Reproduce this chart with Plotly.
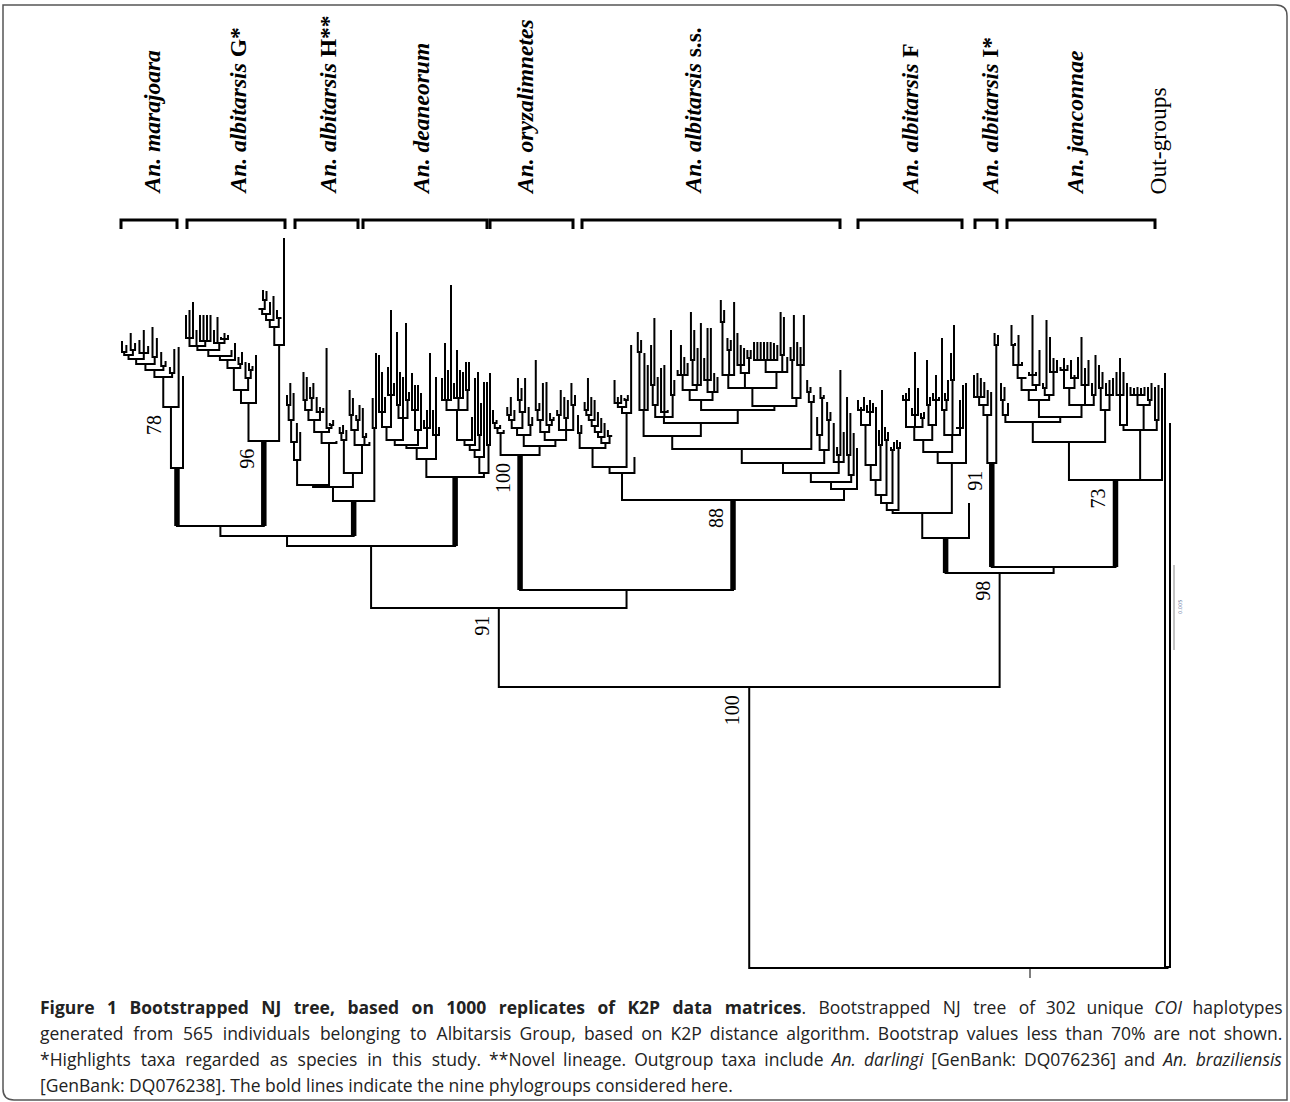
import numpy as np
import plotly.graph_objects as go

# ---------------------------------------------------------------------------
# DATA.  node = [node height, child, child, ...]; leaf = tip height.
# Heights are on the tree's distance axis (root at the bottom, tips upward).
# ---------------------------------------------------------------------------
MARAJ = [468,
         [407,
          [377,
           [370, [364, [359, [355, [352, 341, 345], [350, 333, 343]], [353, 340, 330, 346]],
                  [357, 327, 338]], [366, 352, 361]],
           [373, 367, 349]],
          347],
         376]

G_TOP = [350, [346, [338, 315, 310, 302], 330, [341, 315, 315, 315, 315]],
         [343, 330, 317, [339, 337, 333, 335]]]
G_LEFT = [403, [390, [368, [360, [356, G_TOP, 350], 343], [364, 357, 352]],
                [378, 362, [370, 363, 366]]], 355]
G_RIGHT = [345, [327, [320, [314, [309, 308, [300, 290, 291]], 302], 296], [318, 310, 317]], 238]
G = [441, G_LEFT, G_RIGHT]

H = [501,
     [487,
      [485,
       [460, [442, [420, [405, 395, 383], 393], 423], 432],
       [443, [432, [420, [410, [400, 372, 377], [398, 387, 383]], [412, 397, 407, 408]],
              [428, 348, [425, 423, 420]]], 441]],
      [473, [440, [433, 427, 425], 430],
       [445, [430, [415, 390, 398], [420, 415, 405]], [437, 408, 433], 442]]],
     [428, 398, 353]]

D_LEFT = [459,
          [448,
           [445,
            [440,
             [427, [412, 355, 372, 397], [395, 367, 310, 383]],
             [418, [405, 332, 372], 377, [400, 323, 392]]],
            [430, [410, 373, 385, 385], 393]],
           [428, 420, 410, 353]],
          [435, 410, 377, 427]]
D_RIGHT = [473,
           [457,
            [450,
             [445, [440, [410, [400, 378, 343, 370, 285], [398, 383, 350, 370, 372], [390, 362, 362]],
                    417], 378],
             [435, 372, 403]],
            382],
           [445, 382, 373]]
DEAN = [477, D_LEFT, D_RIGHT]

O_LEFT = [433, [428, [423, 410, 420], 425], 430]
O_RIGHT = [446,
           [435,
            [428, [420, [415, 407, 397], 410], [412, [400, 378, 388], 378]],
            [425, 407, 417]],
           [440,
            [432, [420, [410, 360, 403], 383], [425, 382, [420, 413, 417]]],
            [430, [415, 410, 390], [418, 397, 400], [405, 383, 395]]]]
ORYZ = [455, O_LEFT, O_RIGHT]

C1 = [433, 415, 425]
C2 = [443, [437, [432, [426, [420, [415, [410, 402, 378], 397], 400], 412], 418], 423], [436, 430, 435]]
C3 = [413, [407, [403, 380, 397, 395], [400, 398, 395]], 345]
SS_LEFT = [473, [467, [448, C1, C2], C3], 457]
K1 = [410, [352, 332, 340], 353, 365]
K2 = [417, [405, [385, 345, 318], 377], [412, 368, 365, 410], [395, 330, 380]]
K3 = [400, [390, [375, 370, 345, 357, 363], [385, [360, 312, 330], 348, 323]],
      [392, [380, 358, 328, 328], 373, 377]]
K4 = [388, [375, [322, 300, 310], [350, 338, 340], 302],
      [373, [365, 333, 345, 348], [358, 350, 350]],
      [372, [360, 342, 342, 342, 342, 342, 342, 343, 345], [355, 312, 317], 357]]
K5 = [398, [360, 347, 315], [365, 342, 347, 315]]
K6 = [402, [392, 380, 387], 395]
RL1 = [450, [435, 417, [398, 387, 395]], [420, 402, 412]]
RL2 = [462, 423, [455, 447, 370], 432]
RL3 = [475, [455, 397, 413], 433]
SS_RIGHT = [489, [482, [473, [463, [449, [436, K1, [423, K2, [410, K3, [406, K4, K5]]]], K6], RL1],
                        RL2], RL3], 448]
SS = [500, SS_LEFT, SS_RIGHT]

F_LEFT = [510,
          [503,
           [495,
            [480, [465, [425, [410, 400, 407, 397], [412, 405, 400, 403]], 407], [445, 430, 390]],
            [440, 427, 432]],
           [450, 447, 442]],
          [448, 440, 442]]
F_RIGHT = [463,
           [452,
            [440,
             [427, [400, 395, 393, 388], [415, 408, 352, 388], [418, 413, 412]],
             [425, [405, 360, 397], [400, 393, 375, 397]]],
            [435, [410, 338, [400, 393, 380]], [380, 353, 325], [428, 427, 400, 385]]],
           383]
F_GRP = [538, [513, F_LEFT, F_RIGHT], 503]

I_CL = [463, [415, [405, [397, 375, 373, 378, 382], 390], 392], [345, 333, 335]]

J_A = [415, [400, 383, 387], 403]
J_B = [417,
       [400,
        [390,
         [378, [365, [345, 325, 343], 335, 362], 377],
         [385, [375, 372, 315, 372], 350]],
        [395, [388, 383, 320], [372, 337, 358, 360]]],
       [405, [388, [370, 367, 358, 365], [378, 360, 375, 357]], [385, 337, 368, 360], [395, 383, 355]]]
J_C = [410, [388, 365, 372], [395, 383, 380, 378]]
J_MID = [430, [425, [395, 372, 358, 372], 383],
         [405, [395, 387, 388, 387, 388, 387], [400, 387, 383]], [420, 387, 385]]
JAN = [480, [442, [422, J_A, J_B], J_C], J_MID, 388]

OUT = [967, 373, 423]

# backbone
E = [536, [526, MARAJ, G], H]
C = [546, E, DEAN]
D = [590, ORYZ, SS]
A91 = [608, C, D]
J = [567, I_CL, JAN]
B98 = [573, F_GRP, J]
INGROUP = [687, A91, B98]
ROOT = [968, INGROUP, OUT]

# leaf-order extent of each clade on the horizontal axis
CLADE_SPANS = [(MARAJ, 122, 183), (G, 186, 284), (H, 287, 376), (DEAN, 379, 490),
               (ORYZ, 493, 575), (SS, 578, 857), (F_GRP, 858, 969), (I_CL, 974, 998),
               (JAN, 1001, 1162), (OUT, 1165, 1170)]

PHYLOGROUPS = [MARAJ, G, H, DEAN, ORYZ, SS, F_GRP, I_CL, JAN]

BOOTSTRAP = [(MARAJ[1], 78), (G, 96), (ORYZ, 100), (SS, 88), (I_CL, 91), (JAN, 73),
             (A91, 91), (B98, 98), (INGROUP, 100)]

SPECIES = ["<b><i>An. marajoara</i></b>", "<b><i>An. albitarsis</i> G*</b>",
           "<b><i>An. albitarsis</i> H**</b>", "<b><i>An. deaneorum</i></b>",
           "<b><i>An. oryzalimnetes</i></b>", "<b><i>An. albitarsis</i> s.s.</b>",
           "<b><i>An. albitarsis</i> F</b>", "<b><i>An. albitarsis</i> I*</b>",
           "<b><i>An. janconnae</i></b>", "Out-groups"]
LABEL_X = [151, 237, 327, 421, 525, 692, 910, 990, 1075, 1157]
BRACKETS = [(121, 177), (187, 285), (295, 358), (363, 487), (490, 573),
            (582, 840), (858, 962), (975, 997), (1007, 1155)]

SCALE_LABEL = "0.005"

CAPTION_WORDS = [
    ["<b>Figure", "1", "Bootstrapped", "NJ", "tree,", "based", "on", "1000", "replicates", "of",
     "K2P", "data", "matrices</b>.", "Bootstrapped", "NJ", "tree", "of", "302", "unique",
     "<i>COI</i>", "haplotypes"],
    ["generated", "from", "565", "individuals", "belonging", "to", "Albitarsis", "Group,", "based",
     "on", "K2P", "distance", "algorithm.", "Bootstrap", "values", "less", "than", "70%", "are",
     "not", "shown."],
    ["*Highlights", "taxa", "regarded", "as", "species", "in", "this", "study.", "**Novel",
     "lineage.", "Outgroup", "taxa", "include", "<i>An.", "darlingi</i>", "[GenBank:",
     "DQ076236]", "and", "<i>An.", "braziliensis</i>"],
    ["[GenBank:", "DQ076238].", "The", "bold", "lines", "indicate", "the", "nine", "phylogroups",
     "considered", "here."],
]
# justified caption: base gap per line, and how many gaps get one extra hair space
WORD_GAPS = [" \u2005\u200a", " \u200a\u200a", " \u200a\u200a", " "]
EXTRA_HAIRS = [16, 6, 7, 0]

# ---------------------------------------------------------------------------
span_of = {id(c): (a, b) for c, a, b in CLADE_SPANS}
boot_of = {id(n): v for n, v in BOOTSTRAP}
thick_ids = {id(n) for n in PHYLOGROUPS}


def n_leaves(n):
    return 1 if not isinstance(n, list) else sum(n_leaves(c) for c in n[1:])


def height(n):
    return n[0] if isinstance(n, list) else n


thin_x, thin_y, thick_x, thick_y = [], [], [], []
boot_pos = []


def place(node, xs=None):
    if id(node) in span_of:
        a, b = span_of[id(node)]
        xs = iter(np.linspace(a, b, n_leaves(node)))
    if not isinstance(node, list):
        return float(next(xs))
    h = node[0]
    kids = node[1:]
    kx = [place(k, xs) for k in kids]
    thin_x.extend([kx[0], kx[0], kx[-1], kx[-1], None])
    thin_y.extend([height(kids[0]), h, h, height(kids[-1]), None])
    for k, x in zip(kids[1:-1], kx[1:-1]):
        thin_x.extend([x, x, None])
        thin_y.extend([h, height(k), None])
    for k, x in zip(kids, kx):
        if id(k) in thick_ids:
            thick_x.extend([x, x, None])
            thick_y.extend([h, height(k), None])
        if id(k) in boot_of:
            boot_pos.append((x, height(k), boot_of[id(k)]))
    return (kx[0] + kx[-1]) / 2


root_x = place(ROOT)

fig = go.Figure()
fig.add_trace(go.Scatter(x=thin_x, y=thin_y, mode="lines",
                         line=dict(color="black", width=2), hoverinfo="skip"))
fig.add_trace(go.Scatter(x=thick_x, y=thick_y, mode="lines",
                         line=dict(color="black", width=5.5), hoverinfo="skip"))

ann = []
serif = "Liberation Serif"
for x, top, v in boot_pos:
    ann.append(dict(x=x - 4, y=top + 6, xref="x", yref="y", text=str(v), showarrow=False,
                    textangle=-90, xanchor="right", yanchor="top",
                    font=dict(family=serif, size=20, color="black")))

for txt, lx in zip(SPECIES, LABEL_X):
    ann.append(dict(x=lx, y=197, xref="x", yref="y", text=txt, showarrow=False,
                    textangle=-90, xanchor="center", yanchor="bottom",
                    font=dict(family=serif, size=23.5, color="black")))

shapes = []
for a, b in BRACKETS:
    shapes.append(dict(type="path", xref="x", yref="y",
                       path=f"M {a} 229 L {a} 220 L {b} 220 L {b} 229",
                       line=dict(color="black", width=3)))

# root tick and scale bar
shapes.append(dict(type="line", xref="x", yref="y", x0=1030, x1=1030, y0=ROOT[0], y1=ROOT[0] + 10,
                   line=dict(color="black", width=1)))
shapes.append(dict(type="line", xref="x", yref="y", x0=1174, x1=1174, y0=565, y1=650,
                   line=dict(color="#888888", width=1)))
ann.append(dict(x=1180, y=607, xref="x", yref="y", text=SCALE_LABEL, showarrow=False,
                textangle=-90, font=dict(family="DejaVu Sans", size=5, color="#5a6e96")))

# figure frame (BMC style)
shapes.append(dict(type="path", xref="x", yref="y",
                   path="M 3 5 L 1276 5 Q 1287 5 1287 16 L 1287 1100 L 14 1100 Q 3 1100 3 1089 Z",
                   line=dict(color="#555555", width=1.5)))

cap_y = [1007, 1033, 1059, 1085]
for words, gap, extra, y in zip(CAPTION_WORDS, WORD_GAPS, EXTRA_HAIRS, cap_y):
    parts = []
    for i, w in enumerate(words):
        parts.append(w)
        if i < len(words) - 1:
            parts.append(gap + ("\u200a" if i < extra else ""))
    ann.append(dict(x=38, y=y, xref="x", yref="y", text="".join(parts), showarrow=False,
                    xanchor="left", yanchor="middle",
                    font=dict(family="Open Sans", size=17.5, color="#222222")))

fig.update_layout(width=1290, height=1102, margin=dict(l=0, r=0, t=0, b=0),
                  paper_bgcolor="white", plot_bgcolor="white", showlegend=False,
                  hovermode=False, annotations=ann, shapes=shapes)
fig.update_xaxes(range=[0, 1290], visible=False, fixedrange=True)
fig.update_yaxes(range=[1102, 0], visible=False, fixedrange=True)

fig.write_html("out.html", config={"displayModeBar": False},
               post_script="document.body.style.margin='0';document.body.style.overflow='hidden';")
